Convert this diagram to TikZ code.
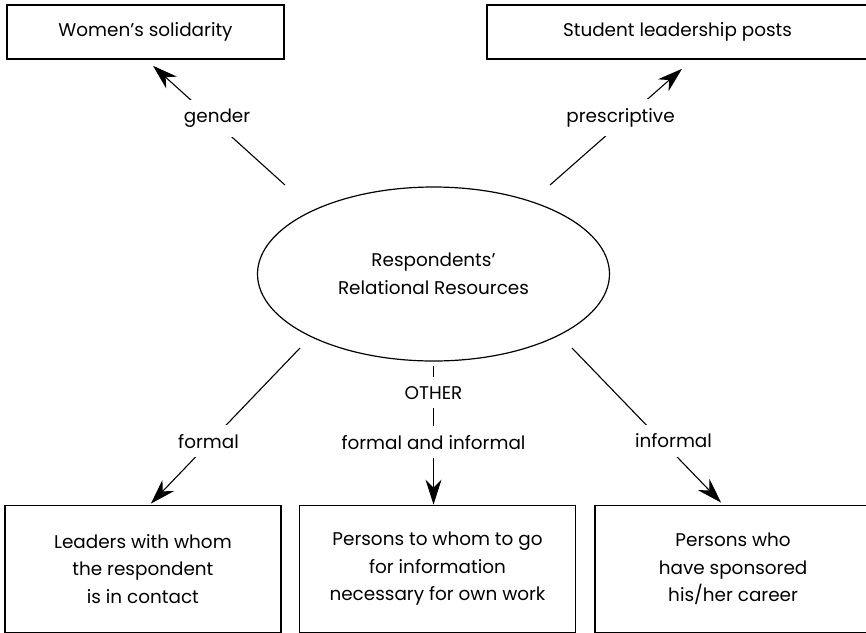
\documentclass[tikz,border=0pt]{standalone}
\usepackage{fontspec}
\setmainfont{Poppins}
\usetikzlibrary{shapes,arrows.meta,positioning}

\begin{document}
\begin{tikzpicture}[% 1 unit = 1 pixel of the layout, y going down
		x=0.5pt,y=-0.5pt,
		every node/.style={
			align=center,		% use this so that the "\\" for line break works
			font=\fontsize{9.2}{13.75}\selectfont
		},
		box/.style={rectangle,draw=black,line width=0.8pt,inner sep=0pt},
		lowbox/.style={box,minimum width=138pt,minimum height=63.5pt},
		lbl/.style={fill=white,inner xsep=3pt,inner ysep=4.5pt},
		every edge/.style={draw,line width=0.55pt},
		tip/.style={-{Stealth[length=12.5pt,width=8pt,inset=4pt]}}
	]
	\useasboundingbox (0,0) rectangle (866,632);
	\node[ellipse,draw=black,line width=0.6pt,minimum width=176pt,minimum height=87pt,inner sep=0pt](resp) at (433.5,274){Respondents’\\Relational Resources};
	\node[box,minimum width=138.5pt,minimum height=27pt](women) at (145.5,32){Women’s solidarity};
	\node[box,minimum width=190.5pt,minimum height=27pt](student) at (677.5,32){Student leadership posts};
	\node[lowbox](persons)[below=71.5pt of resp,xshift=2pt]{Persons to whom to go\\for information\\necessary for own work};
	\node[lowbox](leaders)[left=8.5pt of persons]{Leaders with whom\\the respondent\\is in contact};
	\node[lowbox](sponsors)[right=9pt of persons]{Persons who\\have sponsored\\his/her career};
	% free ends near the ellipse
	\coordinate (gstart) at (285,185);
	\coordinate (pstart) at (550,185);
	\coordinate (fstart) at (300,348);
	\coordinate (istart) at (572,348);
	\path[tip]
		(gstart) edge node[lbl,pos=.56,xshift=3pt] {gender} ([xshift=3.75pt,yshift=-3pt]women.south)
		(pstart) edge node[lbl,pos=.58,xshift=-3pt] {prescriptive} ([xshift=2.25pt,yshift=-4.5pt]student.south)
		(fstart) edge node[lbl,pos=.6,xshift=-1pt] {formal} ([xshift=4pt,yshift=.5pt]leaders.north)
		(istart) edge node[lbl,pos=.6,xshift=6pt] {informal} ([xshift=-6pt,yshift=1pt]sponsors.north)
		([yshift=-2pt]resp.south) edge node[lbl,pos=.195] {OTHER} node[lbl,pos=.55] {formal and informal} ([xshift=-2pt]persons.north)
		;
\end{tikzpicture}
\end{document}
